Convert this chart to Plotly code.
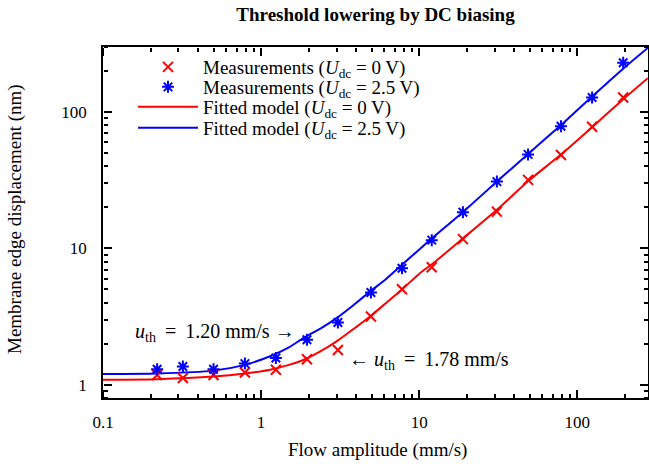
import plotly.graph_objects as go

# Measured points
u_meas = [0.22, 0.32, 0.50, 0.79, 1.24, 1.95, 3.06, 4.95, 7.78, 12.0, 18.9, 31.0, 48.8, 78.8, 124, 195]
disp_0v = [1.18, 1.12, 1.18, 1.23, 1.29, 1.54, 1.80, 3.17, 5.02, 7.28, 11.7, 18.6, 31.8, 48.4, 78, 128]
disp_25v = [1.30, 1.36, 1.30, 1.43, 1.57, 2.14, 2.86, 4.75, 7.16, 11.5, 18.4, 30.9, 48.9, 78.6, 128, 230]

# Fitted model curves
u_fit = [0.1, 0.22, 0.5, 0.79, 1.14, 1.5, 1.85, 2.4, 3.0, 3.9, 4.89, 6.2, 7.94, 10.1, 12.2, 19, 31, 49, 79, 124, 195, 279]
fit_0v = [1.09, 1.10, 1.15, 1.21, 1.29, 1.40, 1.52, 1.77, 2.08, 2.60, 3.17, 4.00, 5.11, 6.58, 7.75, 11.9, 19.2, 31.2, 49.0, 77.5, 124, 177]
fit_25v = [1.20, 1.21, 1.27, 1.40, 1.62, 1.88, 2.20, 2.60, 3.08, 3.90, 4.83, 6.00, 7.75, 9.90, 12.0, 18.6, 30.9, 49.5, 80.5, 130, 208, 295]

x_ticks = [0.1, 1, 10, 100]
x_ticklabels = ["0.1", "1", "10", "100"]
x_minor = [0.2, 0.3, 0.4, 0.5, 0.6, 0.7, 0.8, 0.9, 2, 3, 4, 5, 6, 7, 8, 9,
           20, 30, 40, 50, 60, 70, 80, 90, 200]
y_ticks = [1, 10, 100]
y_ticklabels = ["1", "10", "100"]
y_minor = [0.8, 0.9, 2, 3, 4, 5, 6, 7, 8, 9, 20, 30, 40, 50, 60, 70, 80, 90, 200, 300]

FONT = "Liberation Serif, Times New Roman, serif"
RED = "#ff0000"
BLUE = "#0000ff"

L, R, T, B = 103, 1, 47, 66
W, H = 649, 464
pw, ph = W - L - R, H - T - B
XR = [-1, 2.447]
YR = [-0.097, 2.477]


def px(xp):
    return (xp - L) / pw


def py(yp):
    return (H - B - yp) / ph


fig = go.Figure()
fig.add_trace(go.Scatter(x=u_fit, y=fit_0v, mode="lines",
                         line=dict(color=RED, width=2, shape="spline", smoothing=0.6),
                         name="Fitted model (<i>U</i><sub>dc</sub> = 0 V)", legend="legend3"))
fig.add_trace(go.Scatter(x=u_fit, y=fit_25v, mode="lines",
                         line=dict(color=BLUE, width=2, shape="spline", smoothing=0.6),
                         name="Fitted model (<i>U</i><sub>dc</sub> = 2.5 V)", legend="legend4"))
fig.add_trace(go.Scatter(x=u_meas, y=disp_0v, mode="markers",
                         marker=dict(symbol="x-thin", size=10, line=dict(color=RED, width=2), color=RED),
                         name="Measurements (<i>U</i><sub>dc</sub> = 0 V)", legend="legend"))
fig.add_trace(go.Scatter(x=u_meas, y=disp_25v, mode="markers",
                         marker=dict(symbol="asterisk", size=10, line=dict(color=BLUE, width=2), color=BLUE),
                         name="Measurements (<i>U</i><sub>dc</sub> = 2.5 V)", legend="legend2"))
# invisible traces that instantiate the tick-only overlay axes
fig.add_trace(go.Scatter(x=u_meas, y=disp_0v, xaxis="x2", yaxis="y2", mode="markers",
                         marker=dict(opacity=0), showlegend=False, hoverinfo="skip"))
fig.add_trace(go.Scatter(x=u_meas, y=disp_0v, xaxis="x3", yaxis="y3", mode="markers",
                         marker=dict(opacity=0), showlegend=False, hoverinfo="skip"))


def tick_axis(rng, vals, minor_vals, **kw):
    return dict(type="log", range=rng, showgrid=False, zeroline=False, showline=False, ticks="outside",
                ticklen=8, tickwidth=1.5, tickcolor="black", tickmode="array", tickvals=vals,
                showticklabels=False, anchor="free",
                minor=dict(ticks="outside", ticklen=4, tickwidth=1.5, tickcolor="black", tickmode="array",
                           tickvals=minor_vals, showgrid=False),
                **kw)


fig.update_layout(
    template="none",
    xaxis=dict(type="log", range=XR, showgrid=False, zeroline=False, showline=True, linecolor="black",
               linewidth=1.5, mirror=True, ticks="", tickmode="array", tickvals=x_ticks, ticktext=x_ticklabels,
               tickfont=dict(family=FONT, size=17, color="black"), ticklabelstandoff=8),
    yaxis=dict(type="log", range=YR, showgrid=False, zeroline=False, showline=True, linecolor="black",
               linewidth=1.5, mirror=True, ticks="", tickmode="array", tickvals=y_ticks, ticktext=y_ticklabels,
               tickfont=dict(family=FONT, size=17, color="black"), ticklabelstandoff=11),
    # bottom edge, ticks pointing up into the plot
    xaxis2=tick_axis(XR, x_ticks, x_minor, overlaying="x", side="top", position=0),
    # top edge, ticks pointing down into the plot
    xaxis3=tick_axis(XR, x_ticks, x_minor, overlaying="x", side="bottom", position=1),
    # left edge, ticks pointing right into the plot
    yaxis2=tick_axis(YR, y_ticks, y_minor, overlaying="y", side="right", position=0),
    # right edge, ticks pointing left into the plot
    yaxis3=tick_axis(YR, y_ticks, y_minor, overlaying="y", side="left", position=1),
)

leg_font = dict(family=FONT, size=19, color="black")
row_y = [67, 87, 107, 128]


def leg(yc):
    return dict(x=px(133), y=py(yc), xanchor="left", yanchor="middle", bgcolor="rgba(0,0,0,0)",
                font=leg_font, itemwidth=60, borderwidth=0)


fig.update_layout(
    width=W, height=H,
    margin=dict(l=L, r=R, t=T, b=B),
    paper_bgcolor="white", plot_bgcolor="white",
    font=dict(family=FONT, size=18, color="black"),
    title=dict(text="<b>Threshold lowering by DC biasing</b>", x=0.5, xref="paper", y=1 - 14 / H,
               yanchor="middle", xanchor="center", font=dict(family=FONT, size=19, color="black")),
    showlegend=True,
    legend=leg(row_y[0]),
    legend2=leg(row_y[1]),
    legend3=leg(row_y[2]),
    legend4=leg(row_y[3]),
    annotations=[
        dict(text="Flow amplitude (mm/s)", xref="paper", yref="paper", x=px(377), y=py(450), showarrow=False,
             xanchor="center", yanchor="middle", font=dict(family=FONT, size=19)),
        dict(text="Membrane edge displacement (nm)", xref="paper", yref="paper", x=px(15), y=py(219),
             showarrow=False, xanchor="center", yanchor="middle", textangle=-90, font=dict(family=FONT, size=19)),
        dict(text="<i>u</i><sub>th</sub> \u2009=\u2009 1.20 mm/s \u2192", xref="paper", yref="paper", x=px(133),
             y=py(332), showarrow=False, xanchor="left", yanchor="middle", font=dict(family=FONT, size=20)),
        dict(text="\u2190 <i>u</i><sub>th</sub> \u2009=\u2009 1.78 mm/s", xref="paper", yref="paper", x=px(347),
             y=py(360), showarrow=False, xanchor="left", yanchor="middle", font=dict(family=FONT, size=20)),
    ],
)

fig.write_html("out.html", config={"displayModeBar": False},
               post_script="document.body.style.margin='0';document.body.style.padding='0';")
